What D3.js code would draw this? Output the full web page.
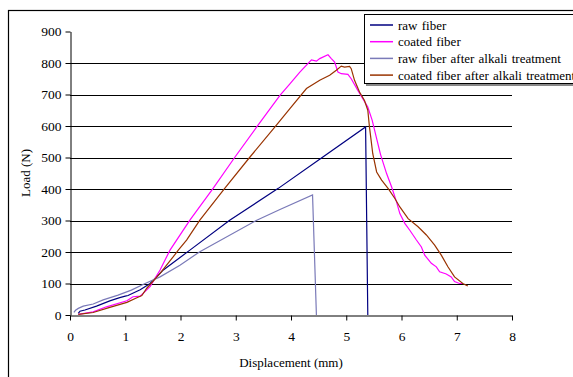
<!DOCTYPE html>
<html><head><meta charset="utf-8">
<script src="https://cdn.jsdelivr.net/npm/d3@7"></script>
<style>body{margin:0;background:#fff}svg{display:block}text{font-family:"Liberation Serif","Times New Roman",serif;fill:#000}</style>
</head><body><svg id="c" width="573" height="377"></svg>
<script>
const xTicks=[0,1,2,3,4,5,6,7,8];
const yTicks=[0,100,200,300,400,500,600,700,800,900];
const seriesNames=["raw fiber","coated fiber","raw fiber after alkali treatment","coated fiber after alkali treatment"];
const seriesColors=["#000080","#ff00ff","#7a7ab8","#993300"];
const rawFiber=[[0.15,5],[0.18,12],[0.27,16],[0.48,28],[0.72,45],[0.9,55],[1.0,60],[1.05,62],[1.27,80],[1.45,100],[1.69,143],[2.17,206],[2.89,301],[3.77,402],[4.5,492],[5.35,597],[5.39,0]];
const coatedFiber=[[0.15,2],[0.42,10],[0.66,26],[1.03,45],[1.14,58],[1.27,60],[1.45,90],[1.63,143],[1.81,206],[2.17,301],[2.59,402],[2.98,500],[3.38,597],[3.80,697],[3.98,734],[4.16,771],[4.37,810],[4.46,806],[4.52,814],[4.67,826],[4.73,814],[4.79,803],[4.85,771],[4.91,766],[5.03,764],[5.09,750],[5.21,713],[5.30,687],[5.39,660],[5.47,618],[5.55,560],[5.62,510],[5.73,449],[5.82,407],[5.91,359],[5.97,322],[6.06,291],[6.15,269],[6.27,238],[6.36,216],[6.42,190],[6.54,164],[6.63,153],[6.69,137],[6.81,130],[6.90,121],[6.96,106],[7.05,100],[7.11,100]];
const rawAlkali=[[0.07,8],[0.1,15],[0.15,21],[0.24,28],[0.42,35],[0.6,48],[0.87,63],[1.11,79],[1.36,100],[1.63,121],[1.99,158],[2.35,201],[3.38,301],[3.80,335],[4.39,381],[4.46,0]];
const coatedAlkali=[[0.15,2],[0.42,8],[0.72,24],[1.03,40],[1.21,55],[1.30,62],[1.39,85],[1.63,132],[1.87,185],[1.96,206],[2.11,238],[2.35,301],[2.80,402],[3.25,500],[3.71,597],[3.98,655],[4.28,719],[4.52,745],[4.70,761],[4.82,777],[4.91,790],[4.97,787],[5.06,789],[5.09,782],[5.15,745],[5.24,708],[5.33,681],[5.39,650],[5.42,597],[5.48,512],[5.55,454],[5.64,428],[5.76,401],[5.88,370],[5.97,343],[6.12,306],[6.30,280],[6.45,254],[6.60,222],[6.72,190],[6.84,153],[6.96,121],[7.11,100],[7.20,92]];
const seriesData=[rawFiber,coatedFiber,rawAlkali,coatedAlkali];

const svg=d3.select("#c");
svg.append("rect").attr("x",8.5).attr("y",10.5).attr("width",600).attr("height",400).attr("fill","none").attr("stroke","#000").attr("stroke-width",1.2);

const x=d3.scaleLinear().domain([0,8]).range([70,512]);
const y=d3.scaleLinear().domain([0,900]).range([315,31.5]);

svg.append("g").selectAll("line").data(yTicks.filter(v=>v>0&&v<900)).join("line")
  .attr("x1",x(0)).attr("x2",x(8)).attr("y1",d=>Math.round(y(d))+0.5).attr("y2",d=>Math.round(y(d))+0.5)
  .attr("stroke","#000").attr("stroke-width",1);

const xa=svg.append("g").attr("transform",`translate(0,${Math.round(y(0))+0.5})`)
  .call(d3.axisBottom(x).tickValues(xTicks).tickSize(5).tickSizeOuter(0).tickFormat(d3.format("d")));
const ya=svg.append("g").attr("transform",`translate(${x(0)+0.5},0)`)
  .call(d3.axisLeft(y).tickValues(yTicks).tickSize(5).tickSizeOuter(0).tickFormat(d3.format("d")));
[xa,ya].forEach(g=>{g.attr("font-family",null).attr("font-size",null);g.selectAll("path,line").attr("stroke","#000");g.selectAll("text").style("font-size","13.5px");});
xa.selectAll("text").attr("dy","0").attr("y",25);
ya.selectAll("text").attr("x",-9);

svg.append("text").attr("x",291).attr("y",367).attr("text-anchor","middle").style("font-size","13px").text("Displacement (mm)");
svg.append("text").attr("transform","translate(30,173) rotate(-90)").attr("text-anchor","middle").style("font-size","13px").text("Load (N)");

const line=d3.line().x(d=>x(d[0])).y(d=>y(d[1]));
svg.append("g").selectAll("path").data(seriesData).join("path")
  .attr("d",line).attr("fill","none").attr("stroke",(d,i)=>seriesColors[i]).attr("stroke-width",1.2);

const lg=svg.append("g");
lg.append("rect").attr("x",366).attr("y",16).attr("width",250).attr("height",70).attr("fill","#888");
lg.append("rect").attr("x",364.5).attr("y",14.5).attr("width",250).attr("height",69).attr("fill","#fff").attr("stroke","#000").attr("stroke-width",1);
seriesNames.forEach((n,i)=>{
  const yy=25+i*16.7;
  lg.append("line").attr("x1",370).attr("x2",393).attr("y1",yy).attr("y2",yy).attr("stroke",seriesColors[i]).attr("stroke-width",1.5);
  lg.append("text").attr("x",398).attr("y",yy+4.5).style("font-size","13px").style("word-spacing","1px").text(n);
});
</script></body></html>
